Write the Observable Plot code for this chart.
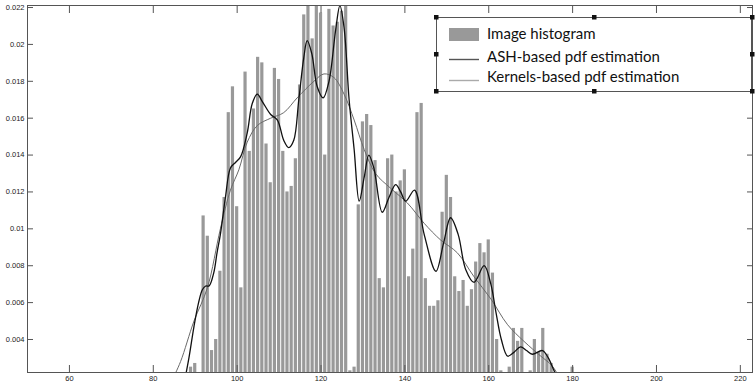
<!DOCTYPE html>
<html><head><meta charset="utf-8">
<script src="https://cdn.jsdelivr.net/npm/d3@7"></script>
<script src="https://cdn.jsdelivr.net/npm/@observablehq/plot@0.6"></script>
<style>
body{margin:0;background:#fff;}
#wrap{position:relative;width:756px;height:388px;overflow:hidden;}
#legend{position:absolute;left:0;top:0;}
</style></head><body><div id="wrap"></div>
<script>
// histogram bins (grey level) and normalised frequencies
const bins = [88,89,90,91,92,93,94,95,96,97,98,99,100,101,102,103,104,105,106,107,108,109,110,111,112,113,114,115,116,117,118,119,120,121,122,123,124,125,126,127,128,129,130,131,132,133,134,135,136,137,138,139,140,141,142,143,144,145,146,147,148,149,150,151,152,153,154,155,156,157,158,159,160,161,162,163,164,165,166,167,168,169,170,171,172,173,174,175,176,177,178,179,180];
const freq = [0,0.0025,0.0027,0,0.0107,0.0096,0.0034,0.0040,0.0077,0.0117,0.0163,0.0177,0.0112,0.0068,0.0185,0.0142,0.0165,0.0193,0.0190,0.0146,0.0125,0.0187,0.0181,0.0142,0.0120,0.0123,0.0138,0.0178,0.0216,0.0230,0.0203,0.0230,0.0217,0.0140,0.0219,0.0210,0.0212,0.0218,0.0230,0.0023,0.0025,0.0113,0.0158,0.0162,0.0156,0.0137,0.0073,0.0068,0.0138,0.0140,0.0120,0.0126,0.0132,0.0074,0.0089,0.0163,0.0168,0.0073,0.0058,0.0058,0.0061,0.0109,0.0129,0.0117,0.0074,0.0066,0.0072,0.0058,0.0067,0.0082,0.0092,0.0087,0.0094,0.0076,0.0040,0.0023,0,0.0025,0.0046,0.0039,0.0046,0,0.0023,0.0040,0.0033,0.0046,0.0032,0.0027,0,0,0,0,0.0025];

// ASH-based pdf estimation
const ashX = [87.5,88.5,89.7,90.8,91.7,92.5,93.3,94.4,95.2,96,97.2,98.4,99.6,100.8,102.4,103.6,104.8,106,108,109.6,111.1,112.3,113.5,114.7,115.9,116.7,117.8,119.1,120.5,121.9,123.5,124.5,125.5,126.7,127.9,129.1,130.3,131.4,132.6,134.6,136.2,137.8,139,140.2,142.3,144.6,147.4,149.2,150.9,152.7,154.5,156.5,158.9,160.5,161.7,163,164.5,166,167.6,169,170.4,172.8,174.2,175.6,176.8];
const ashY = [0.0018,0.0030,0.0047,0.0060,0.0067,0.0069,0.0069,0.0076,0.0087,0.0097,0.0117,0.0133,0.0136,0.0139,0.0152,0.0168,0.0173,0.0169,0.0162,0.0159,0.0148,0.0144,0.0148,0.0170,0.0193,0.0202,0.0195,0.0177,0.0171,0.0180,0.0208,0.0221,0.0209,0.0170,0.0143,0.0115,0.0128,0.0140,0.0133,0.0109,0.0117,0.0124,0.0120,0.0115,0.0121,0.0097,0.0077,0.0092,0.0106,0.0097,0.0078,0.0071,0.0080,0.0070,0.0055,0.0040,0.0031,0.0033,0.0036,0.0034,0.0032,0.0034,0.0030,0.0023,0.0018];

// Kernels-based pdf estimation
const kerX = [84.5,86.5,89.7,92.9,96,98.4,100.4,102.4,104.8,108,111.1,114.3,118.3,120.7,123.1,125.5,127.9,130.3,133,136.6,140.6,144.6,148.5,152.5,156.5,160.5,164.5,168.4,172.4,175,177];
const kerY = [0.0018,0.0028,0.0050,0.0068,0.0100,0.0121,0.0132,0.0147,0.0156,0.0160,0.0163,0.0171,0.0180,0.0184,0.0182,0.0173,0.0159,0.0143,0.0130,0.0122,0.0114,0.0103,0.0094,0.0087,0.0074,0.0062,0.0048,0.0039,0.0031,0.0026,0.0019];

const xTicks = [60,80,100,120,140,160,180,200,220];
const yTicks = [0.004,0.006,0.008,0.01,0.012,0.014,0.016,0.018,0.02,0.022];
const legendLabels = ["Image histogram","ASH-based pdf estimation","Kernels-based pdf estimation"];

const hist = bins.map((b,i)=>({b, f:freq[i]})).filter(d=>d.f>0);
const ash = ashX.map((x,i)=>({x, y:ashY[i]}));
const ker = kerX.map((x,i)=>({x, y:kerY[i]}));

const plot = Plot.plot({
  width:756, height:388,
  marginLeft:27, marginRight:4, marginTop:5, marginBottom:16,
  x:{domain:[50,222.9]},
  y:{domain:[0.00221,0.02211]},
  style:{fontFamily:"'Liberation Sans', Arial, sans-serif", fontSize:"7.5px", color:"#222", background:"#fff"},
  marks:[
    Plot.rect(hist, {x1:d=>d.b-0.5, x2:d=>d.b+0.5, y1:0, y2:"f", fill:"#999999", insetLeft:0.5, insetRight:0.5, clip:true}),
    Plot.line(ker, {x:"x", y:"y", stroke:"#6a6a6a", strokeWidth:1, curve:"catmull-rom", clip:true}),
    Plot.line(ash, {x:"x", y:"y", stroke:"#111", strokeWidth:1.3, curve:"catmull-rom", clip:true}),
    Plot.frame({stroke:"#555"}),
    Plot.axisX({ticks:xTicks, anchor:"bottom", tickSize:-7, tickPadding:10, label:null, stroke:"#555"}),
    Plot.axisX({ticks:xTicks, anchor:"top", tickSize:-7, tickFormat:()=>"", label:null, stroke:"#555"}),
    Plot.axisY({ticks:yTicks, anchor:"left", tickSize:-6, tickPadding:9, tickFormat:d=>String(d), label:null, stroke:"#555"}),
    Plot.axisY({ticks:yTicks, anchor:"right", tickSize:-6, tickFormat:()=>"", label:null, stroke:"#555"})
  ]
});
const wrap = document.getElementById("wrap");
wrap.appendChild(plot);

// legend overlay
const svg = d3.select(wrap).append("svg").attr("id","legend").attr("width",756).attr("height",388);
const L = 436, T = 17, R = 752, B = 91;
svg.append("rect").attr("x",L+0.5).attr("y",T+0.5).attr("width",R-L-1).attr("height",B-T).attr("fill","#fff").attr("stroke","#555");
const hs = [[L,T],[(L+R)/2,T],[R,T],[L,(T+B)/2],[R,(T+B)/2],[L,B],[(L+R)/2,B],[R,B]];
svg.selectAll("rect.h").data(hs).join("rect").attr("class","h").attr("x",d=>d[0]-2).attr("y",d=>d[1]-2).attr("width",4.5).attr("height",4.5).attr("fill","#111");
svg.append("rect").attr("x",449).attr("y",28).attr("width",30).attr("height",13).attr("fill","#999");
svg.append("line").attr("x1",449).attr("x2",479).attr("y1",59.5).attr("y2",59.5).attr("stroke","#555").attr("stroke-width",1.4);
svg.append("line").attr("x1",449).attr("x2",479).attr("y1",80.5).attr("y2",80.5).attr("stroke","#aaa").attr("stroke-width",1.4);
svg.selectAll("text").data(legendLabels).join("text")
  .attr("x",487).attr("y",(d,i)=>[39,62,82][i])
  .attr("font-family","Lato, sans-serif").attr("font-size",15).attr("fill","#111")
  .text(d=>d);
</script>
</body></html>
